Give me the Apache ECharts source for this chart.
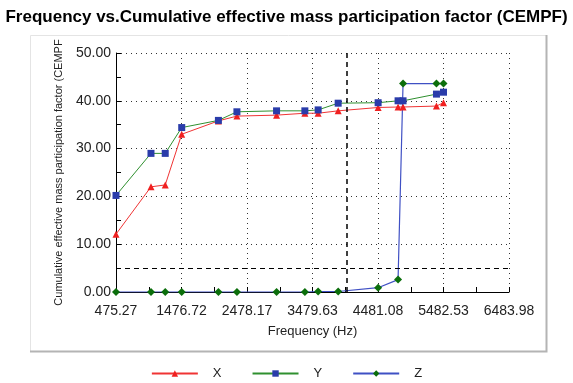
<!DOCTYPE html>
<html>
<head>
<meta charset="utf-8">
<script src="https://cdn.jsdelivr.net/npm/echarts@6/dist/echarts.min.js"></script>
<style>
html,body{margin:0;padding:0;background:#fff;}
#c{width:573px;height:383px;}
</style>
</head>
<body>
<div id="c"></div>
<script>
// ---- data ----
var freq = [475.27, 1010, 1228, 1480, 2041, 2324, 2930, 3363, 3566, 3872, 4483, 4788, 4864, 5375, 5482.53];
var cempfX = [12.1, 22.0, 22.4, 33.0, 35.8, 36.8, 37.0, 37.4, 37.4, 37.9, 38.6, 38.7, 38.7, 38.9, 39.6];
var cempfY = [20.2, 29.0, 29.0, 34.4, 35.9, 37.7, 37.9, 37.9, 38.1, 39.5, 39.6, 40.0, 40.0, 41.4, 41.8];
var cempfZ = [0, 0, 0, 0, 0, 0, 0, 0, 0.1, 0.1, 0.9, 2.6, 43.6, 43.6, 43.6];
var xTickLabels = ['475.27', '1476.72', '2478.17', '3479.63', '4481.08', '5482.53', '6483.98'];
var yTickLabels = ['0.00', '10.00', '20.00', '30.00', '40.00', '50.00'];
var limitFreq = [4000];
var limitCempf = [5];
var seriesNames = ['X', 'Y', 'Z'];

// ---- helpers ----
var xTicks = xTickLabels.map(Number);
var F0 = xTicks[0];
var xStep = (xTicks[xTicks.length - 1] - F0) / (xTicks.length - 1);
function pts(vals) {
  return freq.map(function (f, i) { return [f - F0, vals[i]]; });
}
function xLabel(v) {
  var f = v + F0, best = 0;
  for (var i = 1; i < xTicks.length; i++) {
    if (Math.abs(xTicks[i] - f) < Math.abs(xTicks[best] - f)) best = i;
  }
  return xTickLabels[best];
}
function yLabel(v) {
  var idx = Math.round(v / 10);
  return yTickLabels[idx] !== undefined ? yTickLabels[idx] : v.toFixed(2);
}

var FONT = 'Liberation Sans, Arial, sans-serif';
var chart = echarts.init(document.getElementById('c'), null, {renderer: 'canvas'});
chart.setOption({
  animation: false,
  backgroundColor: '#fff',
  textStyle: {fontFamily: FONT},
  title: {
    text: 'Frequency vs.Cumulative effective mass participation factor (CEMPF)',
    left: 'center', top: 4,
    textStyle: {fontSize: 17, fontWeight: 'bold', color: '#000', fontFamily: FONT}
  },
  graphic: [
    {type: 'rect', shape: {x: 30.5, y: 35.5, width: 516, height: 316}, style: {fill: 'none', stroke: '#e4e4e4', lineWidth: 1}, silent: true, z: -1},
    {type: 'polyline', shape: {points: [[546.5, 35], [546.5, 351.5], [30, 351.5]]}, style: {fill: 'none', stroke: '#b4b4b4', lineWidth: 2}, silent: true, z: -1}
  ],
  grid: {left: 116, right: 64, top: 53, bottom: 91, outerBoundsMode: 'none', containLabel: false},
  legend: {
    bottom: -2, left: 'center',
    itemWidth: 46, itemHeight: 8, itemGap: 30,
    textStyle: {fontSize: 13, color: '#222', padding: [0, 0, 0, 10]},
    data: seriesNames
  },
  xAxis: {
    type: 'value', min: 0, max: xTicks[xTicks.length - 1] - F0, interval: xStep,
    name: 'Frequency (Hz)', nameLocation: 'middle', nameGap: 33,
    nameTextStyle: {fontSize: 13, color: '#222'},
    axisLine: {show: true, onZero: false, lineStyle: {color: '#000', width: 1}},
    axisTick: {show: true, inside: true, length: 5, lineStyle: {color: '#000'}},
    minorTick: {show: true, splitNumber: 2, length: 5, lineStyle: {color: '#000'}},
    axisLabel: {fontSize: 14, color: '#222', margin: 12, formatter: xLabel, showMinLabel: true, showMaxLabel: true},
    splitLine: {show: true, lineStyle: {color: '#333', type: [1, 4], width: 1}}
  },
  yAxis: {
    type: 'value', min: 0, max: 50, interval: 10,
    name: 'Cumulative effective mass participation factor (CEMPF', nameLocation: 'middle', nameGap: 52,
    nameTextStyle: {fontSize: 11, color: '#222'},
    axisLine: {show: true, onZero: false, lineStyle: {color: '#000', width: 1}},
    axisTick: {show: true, inside: true, length: 5, lineStyle: {color: '#000'}},
    minorTick: {show: true, splitNumber: 2, length: 5, lineStyle: {color: '#000'}},
    axisLabel: {fontSize: 14, color: '#222', margin: 5, formatter: yLabel},
    splitLine: {show: true, lineStyle: {color: '#333', type: [1, 4], width: 1}}
  },
  series: [
    {
      name: seriesNames[0], type: 'line', data: pts(cempfX),
      symbol: 'triangle', symbolSize: 7,
      lineStyle: {color: '#f03434', width: 1},
      itemStyle: {color: '#f02020'},
      markLine: {
        silent: true, symbol: 'none', label: {show: false},
        data: [
          {yAxis: limitCempf[0], lineStyle: {color: '#000', type: [5, 4], width: 1}},
          {xAxis: limitFreq[0] - F0, lineStyle: {color: '#000', type: [5, 4], width: 1.5}}
        ]
      }
    },
    {
      name: seriesNames[1], type: 'line', data: pts(cempfY),
      symbol: 'rect', symbolSize: 7,
      lineStyle: {color: '#2f902f', width: 1},
      itemStyle: {color: '#2a3caa'}
    },
    {
      name: seriesNames[2], type: 'line', data: pts(cempfZ),
      symbol: 'diamond', symbolSize: 8,
      lineStyle: {color: '#3f50c4', width: 1.2},
      itemStyle: {color: '#0b6e0b'}
    }
  ]
});
</script>
</body>
</html>
